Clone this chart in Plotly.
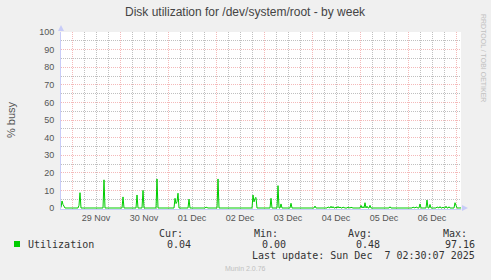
import plotly.graph_objects as go
import pandas as pd

# ---- data ----
start_time = "2025-11-28 18:30"
n_points = 401  # 30-minute samples over 200 hours
# hours after start -> % busy (all other samples read as 0)
spike_hours = [0.0, 0.5, 1.0, 1.5, 9.0, 9.5, 21.5, 31.0, 38.0, 41.0, 48.0,
               57.0, 57.5, 58.0, 58.5, 64.0, 72.5, 78.5,
               96.0, 96.5, 97.0, 97.5, 105.0, 108.5, 110.0, 115.0, 127.0,
               133.5, 135.0, 136.0, 137.5, 138.5, 139.5, 141.0, 143.5, 145.0,
               150.0, 151.0, 152.0, 153.0, 154.5, 164.5, 171.0,
               176.0, 177.5, 179.5, 183.0, 184.5,
               188.0, 189.5, 191.0, 192.5, 194.0, 197.0, 197.5, 200.0]
spike_values = [0.3, 4.0, 2.0, 0.4, 1.5, 8.7, 16.0, 6.3, 7.4, 10.0, 16.5,
                5.5, 2.5, 3.5, 8.4, 5.0, 0.5, 16.5,
                7.4, 3.5, 5.5, 6.0, 5.5, 12.7, 2.3, 2.7, 1.1,
                0.6, 1.0, 0.8, 0.5, 0.9, 0.6, 0.5, 0.5, 0.4,
                1.5, 0.8, 3.0, 1.0, 1.5, 0.7, 0.4,
                0.5, 0.6, 2.3, 4.5, 2.0,
                0.6, 0.8, 0.5, 1.0, 0.7, 3.0, 1.0, 0.04]

legend_name = "Utilization"
stat_labels = ["Cur:", "Min:", "Avg:", "Max:"]
stat_values = ["0.04", "0.00", "0.48", "97.16"]
last_update = "Last update: Sun Dec  7 02:30:07 2025"
title_text = "Disk utilization for /dev/system/root - by week"
y_title = "% busy"
side_text = "RRDTOOL / TOBI OETIKER"
footer = "Munin 2.0.76"

# ---- build series ----
times = pd.date_range(start_time, periods=n_points, freq="30min")
lookup = dict(zip(spike_hours, spike_values))
values = [lookup.get(i * 0.5, 0.0) for i in range(n_points)]

W, H = 491, 280
L, R, T, B = 61, 461, 32, 209


def px(x):
    return (x - L) / (R - L)


def py(y):
    return (B - y) / (B - T)


fig = go.Figure()
fig.add_trace(go.Scatter(x=times, y=values, mode="lines",
                         line=dict(color="#00CC00", width=1),
                         hoverinfo="skip", showlegend=False))

MAJ = "rgba(230,100,100,0.45)"
MIN = "rgba(140,140,140,0.55)"
AX = "#C8CCF8"
SANS = "Liberation Sans"
MONO = "DejaVu Sans Mono"

fig.update_layout(
    width=W, height=H,
    margin=dict(l=L, r=W - R, t=T, b=H - B, pad=0),
    paper_bgcolor="#F0F0F0", plot_bgcolor="#FFFFFF",
    showlegend=False,
    xaxis=dict(
        type="date",
        range=[times[0], times[-1]],
        tick0="2025-11-29 00:00", dtick=86400000,
        ticklabelmode="period", tickformat="%d %b",
        ticks="", showgrid=True, gridcolor=MAJ, griddash="1px,1px", gridwidth=1,
        minor=dict(dtick=6 * 3600000, tick0="2025-11-29 00:00",
                   showgrid=True, gridcolor=MIN, griddash="1px,1px", gridwidth=1),
        showline=True, linecolor=AX, linewidth=1,
        tickfont=dict(family=SANS, size=9, color="#555555"),
        zeroline=False, fixedrange=True,
    ),
    yaxis=dict(
        range=[-100 / 176, 100], tick0=0, dtick=10,
        ticks="", showgrid=True, gridcolor=MAJ, griddash="1px,1px", gridwidth=1,
        minor=dict(dtick=5, showgrid=True, gridcolor=MIN, griddash="1px,1px", gridwidth=1),
        showline=True, linecolor=AX, linewidth=1,
        tickfont=dict(family=SANS, size=9, color="#555555"),
        ticklabelstandoff=4,
        zeroline=False, fixedrange=True,
    ),
)

ann = []
ann.append(dict(text=title_text, x=px(245), y=py(11.5), xanchor="center", yanchor="middle",
                font=dict(family=SANS, size=12, color="#444444")))
ann.append(dict(text=y_title, x=px(11), y=py(120), textangle=-90, xanchor="center", yanchor="middle",
                font=dict(family=SANS, size=11, color="#555555")))
ann.append(dict(text=side_text, x=px(483.5), y=py(58.5), textangle=90, xanchor="center", yanchor="middle",
                font=dict(family=SANS, size=7, color="#C0C0C0")))
ann.append(dict(text=legend_name, x=px(26), y=py(244), xanchor="left", yanchor="middle",
                font=dict(family=MONO, size=10, color="#333333")))
hdr_x = [157, 252, 346, 441]
val_x = [193, 288, 382, 477]
for lab, hx in zip(stat_labels, hdr_x):
    ann.append(dict(text=lab, x=px(hx), y=py(233), xanchor="left", yanchor="middle",
                    font=dict(family=MONO, size=10, color="#333333")))
for v, vx in zip(stat_values, val_x):
    ann.append(dict(text=v, x=px(vx), y=py(244), xanchor="right", yanchor="middle",
                    font=dict(family=MONO, size=10, color="#333333")))
ann.append(dict(text=last_update, x=px(477), y=py(256), xanchor="right", yanchor="middle",
                font=dict(family=MONO, size=10, color="#333333")))
ann.append(dict(text=footer, x=px(245), y=py(268), xanchor="center", yanchor="middle",
                font=dict(family=SANS, size=7, color="#C0C0C0")))
for a in ann:
    a.update(xref="paper", yref="paper", showarrow=False)
fig.update_layout(annotations=ann)

shapes = []
# legend colour box
shapes.append(dict(type="rect", xref="paper", yref="paper",
                   x0=px(14), x1=px(20), y0=py(247), y1=py(241),
                   fillcolor="#00CC00", line=dict(width=0)))
# axis arrows
shapes.append(dict(type="path", xref="paper", yref="paper",
                   path=f"M {px(58)} {py(31)} L {px(64)} {py(31)} L {px(61)} {py(25)} Z",
                   fillcolor=AX, line=dict(width=0)))
shapes.append(dict(type="path", xref="paper", yref="paper",
                   path=f"M {px(462)} {py(205)} L {px(462)} {py(211)} L {px(468)} {py(208)} Z",
                   fillcolor=AX, line=dict(width=0)))
fig.update_layout(shapes=shapes)

fig.write_html("out.html")
